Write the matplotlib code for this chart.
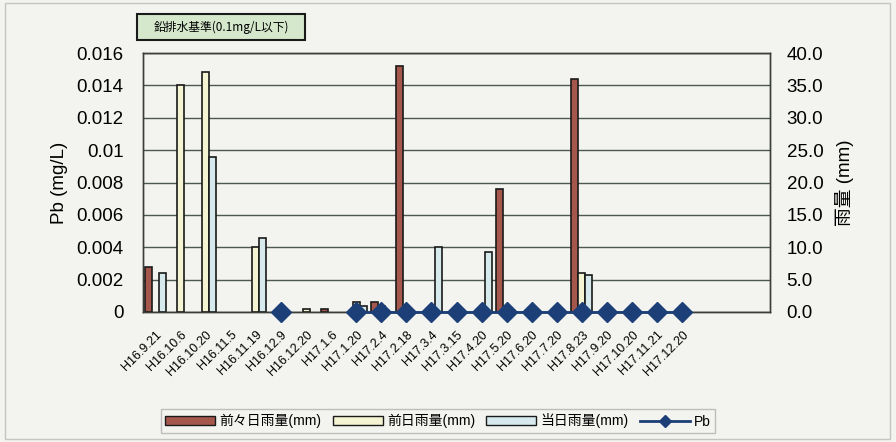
import numpy as np
import matplotlib
matplotlib.use('Agg')
import matplotlib.pyplot as plt
from matplotlib.patches import Rectangle, Patch
from matplotlib.lines import Line2D

plt.rcParams['font.family'] = ['Liberation Sans', 'Noto Sans CJK JP']

n = np.nan

# 採水日 (末尾3つは空欄)
dates = ['H16.9.21', 'H16.10.6', 'H16.10.20', 'H16.11.5', 'H16.11.19', 'H16.12.9',
         'H16.12.20', 'H17.1.6', 'H17.1.20', 'H17.2.4', 'H17.2.18', 'H17.3.4',
         'H17.3.15', 'H17.4.20', 'H17.5.20', 'H17.6.20', 'H17.7.20', 'H17.8.23',
         'H17.9.20', 'H17.10.20', 'H17.11.21', 'H17.12.20', '', '', '']

# 雨量 (mm)  降雨なしは nan
rain_2days = [7.0, n, n, n, n, n, n, 0.5, n, 1.5, 38.0, n, n, n, 19.0, n, n, 36.0, n, n, n, n, n, n, n]
rain_prev = [n, 35.0, 37.0, n, 10.0, n, 0.5, n, 1.5, 1.0, n, n, n, n, n, n, n, 6.0, n, n, n, n, n, n, n]
rain_today = [6.0, n, 24.0, n, 11.5, n, n, n, 1.0, n, n, 10.0, n, 9.2, n, n, n, 5.7, n, n, n, n, n, n, n]

# Pb (mg/L)  未測定は nan
pb = [n, n, n, n, n, 0.0, n, n,
      0.0, 0.0, 0.0, 0.0, 0.0, 0.0, 0.0, 0.0, 0.0, 0.0, 0.0, 0.0, 0.0, 0.0,
      n, n, n]

c_red = '#a5574c'
c_cream = '#f4f3d2'
c_blue = '#d6eaee'
c_pb = '#1d3f78'
bg = '#f3f3ef'

fig = plt.figure(figsize=(8.96, 4.42), dpi=100, facecolor=bg)
ax = fig.add_axes([143/896, 1-312/442, 627/896, 259/442])
ax2 = ax.twinx()

x = np.arange(len(dates))
w = 0.28

ax2.set_facecolor('#aab1a9')
ax2.bar(x - w, rain_2days, w, color=c_red, edgecolor='#1a1a1a', linewidth=1.2, zorder=3)
ax2.bar(x, rain_prev, w, color=c_cream, edgecolor='#1a1a1a', linewidth=1.2, zorder=3)
ax2.bar(x + w, rain_today, w, color=c_blue, edgecolor='#1a1a1a', linewidth=1.2, zorder=3)
ax2.set_ylim(0, 40)
ax2.set_yticks(np.arange(0, 40.1, 5))
ax2.set_yticklabels([f'{v:.1f}' for v in np.arange(0, 40.1, 5)], fontsize=13.5)
ax2.yaxis.grid(True, color='#4e5852', linewidth=1.0)
ax2.set_axisbelow(True)
ax2.set_ylabel('雨量 (mm)', fontsize=13.5, labelpad=8)

# Pb を雨量の棒の上に描く
ax.set_zorder(ax2.get_zorder() + 1)
ax.patch.set_visible(False)
ax.plot(x, pb, color=c_pb, linewidth=2, marker='D', markersize=10.5, clip_on=False, zorder=5)
ax.set_ylim(0, 0.016)
ax.set_yticks(np.arange(0, 0.0161, 0.002))
ax.set_yticklabels(['0', '0.002', '0.004', '0.006', '0.008', '0.01', '0.012', '0.014', '0.016'],
                   fontsize=13.5)
ax.set_ylabel('Pb (mg/L)', fontsize=13.5, labelpad=6)
ax.set_xlim(-0.5, len(dates) - 0.5)
ax.set_xticks(x)
ax.set_xticklabels(dates, rotation=45, ha='right', rotation_mode='anchor', fontsize=9)

ax.tick_params(axis='y', length=0, pad=14)
ax2.tick_params(axis='y', length=0, pad=12)
for a in (ax, ax2):
    a.tick_params(axis='x', length=0, pad=12)
    for s in a.spines.values():
        s.set_color('#3a3f3a')
        s.set_linewidth(1.0)

# 凡例
handles = [
    Patch(facecolor=c_red, edgecolor='#1a1a1a', label='前々日雨量(mm)'),
    Patch(facecolor=c_cream, edgecolor='#1a1a1a', label='前日雨量(mm)'),
    Patch(facecolor=c_blue, edgecolor='#1a1a1a', label='当日雨量(mm)'),
    Line2D([0], [0], color=c_pb, linewidth=2, marker='D', markersize=6, label='Pb'),
]
leg = fig.legend(handles=handles, loc='center', bbox_to_anchor=(438/896, 1-421/442), ncol=4,
                 fontsize=10, frameon=True, fancybox=False, handlelength=3.6, handleheight=0.6,
                 columnspacing=0.8, handletextpad=0.3, borderpad=0.35)
leg.get_frame().set_edgecolor('#b0b0b0')
leg.get_frame().set_facecolor(bg)

# 基準値の枠
fig.patches.append(Rectangle((137/896, 1-40/442), 168/896, 26/442, transform=fig.transFigure,
                             facecolor='#d5e8cc', edgecolor='#1a1a1a', linewidth=1.5))
fig.text(221/896, 1-27/442, '鉛排水基準(0.1mg/L以下)', ha='center', va='center', fontsize=8.5,
         family=['Noto Sans CJK JP', 'DejaVu Sans'])

# 外枠
fig.patches.append(Rectangle((5/896, 3/442), 885/896, 436/442, transform=fig.transFigure,
                             facecolor='none', edgecolor='#c4c4c0', linewidth=1))

fig.savefig('out.png', dpi=100, facecolor=bg)
